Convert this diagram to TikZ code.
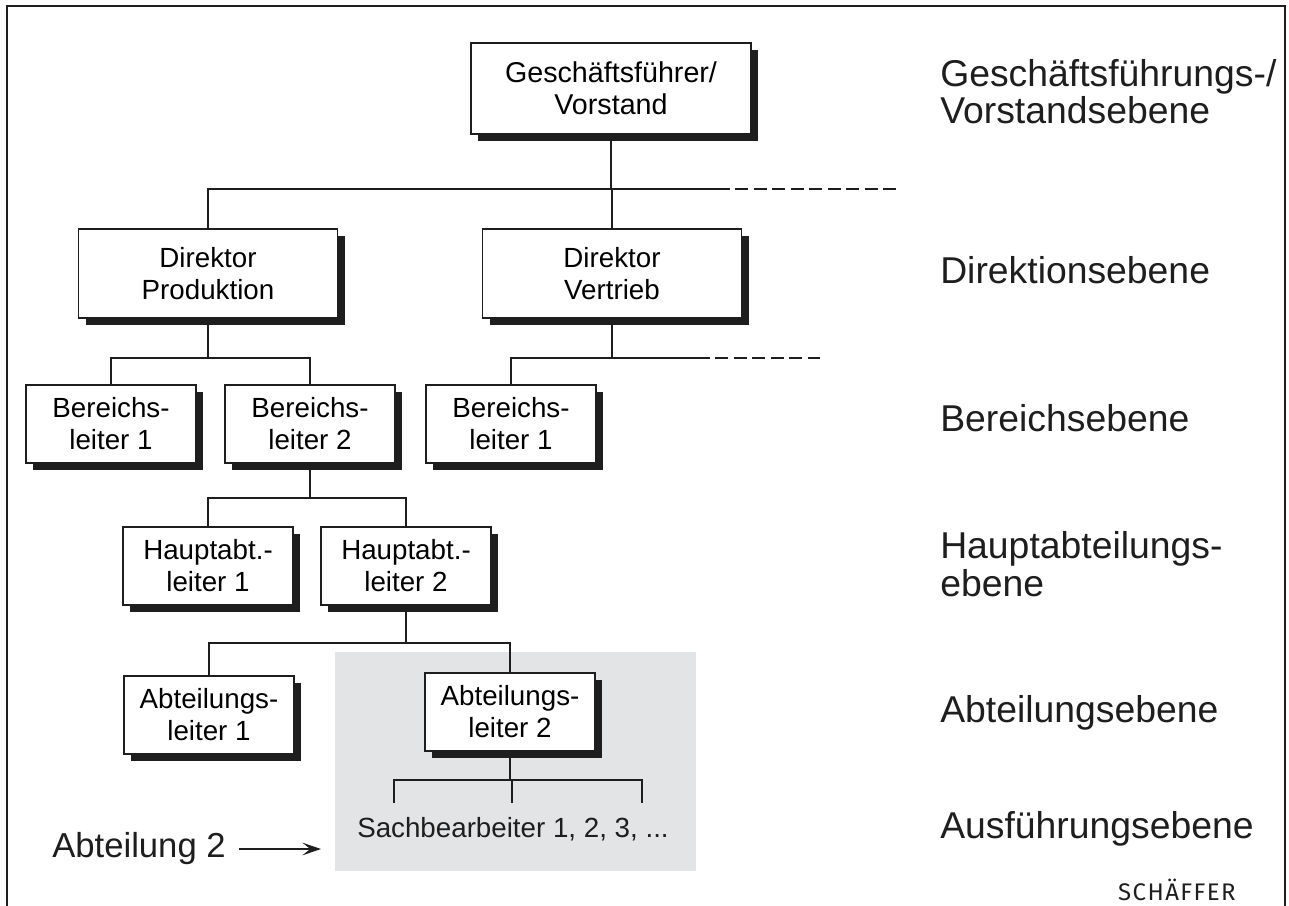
\documentclass[tikz,border=0pt]{standalone}
\usepackage{fontspec}
\setmainfont{Liberation Sans}
\newfontfamily\logofont[LetterSpace=6]{Fira Sans}
\usetikzlibrary{shadows,arrows.meta}
\definecolor{ink}{HTML}{1E1E1E}
\definecolor{panel}{HTML}{E3E4E6}
\begin{document}
\begin{tikzpicture}[x=0.75pt,y=-0.75pt,
  box/.style={draw=ink, line width=1.1pt, fill=white, align=center, inner sep=0pt,
    font=\fontsize{20.8}{24}\selectfont,
    general shadow={fill=ink, draw=none, shadow xshift=5.4pt, shadow yshift=-5.2pt}},
  topbox/.style={box, minimum width=210pt, minimum height=68pt, font=\fontsize{21.5}{24}\selectfont},
  dirbox/.style={box, minimum width=194pt, minimum height=67pt},
  smallbox/.style={box, minimum width=127.5pt, minimum height=58.5pt},
  conn/.style={draw=ink, line width=1.05pt},
  ghost/.style={draw=ink, line width=1.05pt, dash pattern=on 9.75pt off 4.1pt},
  level/.style={anchor=west, align=left, inner sep=0pt, font=\fontsize{28}{28}\selectfont, text=ink},
  plain/.style={inner sep=0pt, font=\fontsize{20.8}{24}\selectfont, text=ink}]

\useasboundingbox (0,0) rectangle (1289,906);

% outer frame, open at the bottom
\draw[ink, line width=1.8pt] (7,906) -- (7,6) -- (1285,6) -- (1285,906);

% shaded area for department 2
\fill[panel] (335,652) rectangle (696,871);

% boxes
\node[topbox]   (gf) at (611,88.5) {Geschäftsführer/\\Vorstand};
\node[dirbox]   (dp) at (208,273.5) {Direktor\\Produktion};
\node[dirbox]   (dv) at (612,273.5) {Direktor\\Vertrieb};
\node[smallbox] (b1) at (111,424) {Bereichs-\\leiter 1};
\node[smallbox] (b2) at (310,424) {Bereichs-\\leiter 2};
\node[smallbox] (bv) at (511,424) {Bereichs-\\leiter 1};
\node[smallbox] (h1) at (208,566) {Hauptabt.-\\leiter 1};
\node[smallbox] (h2) at (406,566) {Hauptabt.-\\leiter 2};
\node[smallbox] (a1) at (209,715) {Abteilungs-\\leiter 1};
\node[smallbox] (a2) at (510,712) {Abteilungs-\\leiter 2};
\node[plain, anchor=base] (sb) at (513,837) {Sachbearbeiter 1, 2, 3, ...};

% bus lines
\coordinate (bus1) at (0,189);
\coordinate (bus2) at (0,358);
\coordinate (bus3) at (0,498);
\coordinate (bus4) at (0,643);
\coordinate (bus5) at (0,780);
\coordinate (solid1) at (730,189);
\coordinate (dash1)  at (897,189);
\coordinate (solid2) at (710,358);
\coordinate (dash2)  at (820,358);
\coordinate (s1) at (394,803);
\coordinate (s2) at (512,803);
\coordinate (s3) at (642,803);

% board to directors
\draw[conn] (gf.south) -- (gf.south |- bus1);
\draw[conn] (dp.north) |- (solid1);
\draw[conn] (dv.north) -- (dv.north |- bus1);
\draw[ghost] ([xshift=4pt]solid1) -- (dash1);

% production to divisions
\draw[conn] (dp.south) -- (dp.south |- bus2);
\draw[conn] (b1.north) |- (b2.north |- bus2) -- (b2.north);

% sales to divisions
\draw[conn] (dv.south) -- (dv.south |- bus2);
\draw[conn] (bv.north) |- (solid2);
\draw[ghost] ([xshift=4pt]solid2) -- (dash2);

% division to main departments
\draw[conn] (b2.south) -- (b2.south |- bus3);
\draw[conn] (h1.north) |- (h2.north |- bus3) -- (h2.north);

% main department to departments
\draw[conn] (h2.south) -- (h2.south |- bus4);
\draw[conn] (a1.north) |- (a2.north |- bus4) -- (a2.north);

% department to clerks
\draw[conn] (a2.south) -- (a2.south |- bus5);
\draw[conn] (s1) |- (s3 |- bus5) -- (s3);
\draw[conn] (s2 |- bus5) -- (s2);

% department label with arrow
\node[plain, anchor=west, font=\fontsize{26}{28}\selectfont] (dept) at (52,849) {Abteilung 2};
\coordinate (tip) at (321,849);
\draw[ink, line width=1.1pt, -{Stealth[length=14pt, width=9.5pt, inset=6pt]}] ([xshift=10pt]dept.east) -- (tip);

% level labels
\node[level] (l1) at (940,91.5) {Geschäftsführungs-/\\Vorstandsebene};
\node[level] (l2) at (940,270) {Direktionsebene};
\node[level] (l3) at (940,418) {Bereichsebene};
\node[level] (l4) at (940,564) {Hauptabteilungs-\\ebene};
\node[level] (l5) at (940,713) {Abteilungsebene};
\node[level] (l6) at (940,829) {Ausführungsebene};

% publisher mark
\node[anchor=base east, inner sep=0pt, text=ink, font=\logofont\fontsize{18}{18}\selectfont] (logo) at (1236,900) {SCHÄFFER};
\end{tikzpicture}
\end{document}
